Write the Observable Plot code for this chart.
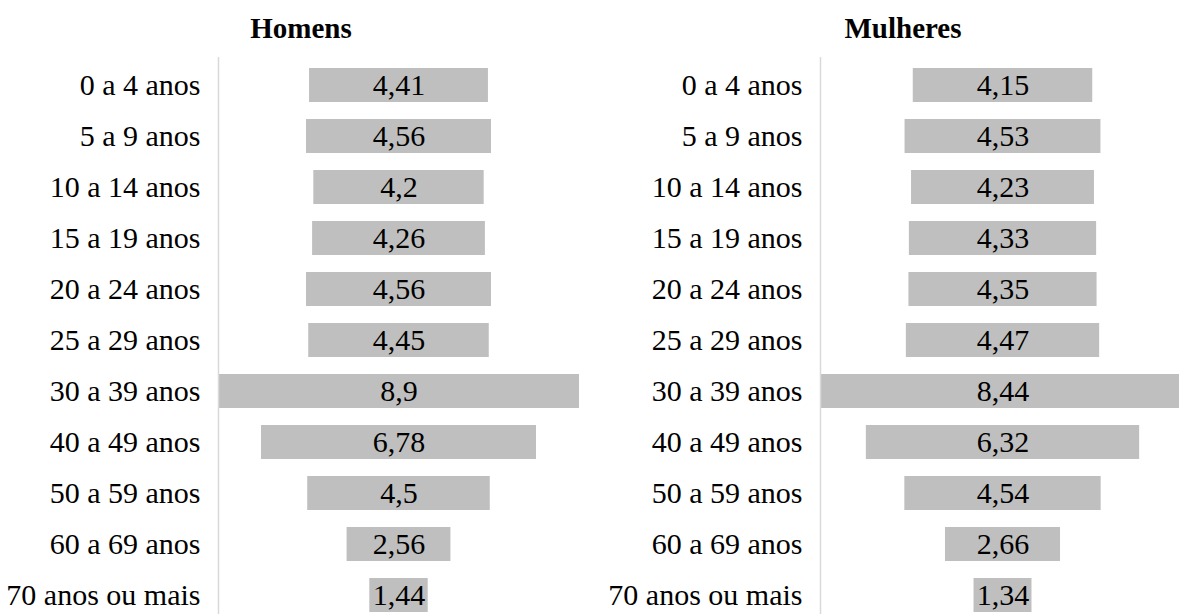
<!DOCTYPE html>
<html>
<head>
<meta charset="utf-8">
<script src="https://cdn.jsdelivr.net/npm/d3@7"></script>
<script src="https://cdn.jsdelivr.net/npm/@observablehq/plot@0.6"></script>
<style>
  html, body { margin: 0; padding: 0; background: #fff; overflow: hidden; }
  #chart { display: flex; width: 1204px; }
  .panel { width: 602px; flex: none; }
  .title {
    height: 57px; line-height: 57px; text-align: center;
    font-family: "Liberation Serif", "Times New Roman", serif;
    font-weight: bold; font-size: 29px; color: #000;
  }
  svg { display: block; }
  svg, svg text { font-family: "Liberation Serif", "Times New Roman", serif !important; }
</style>
</head>
<body>
<div id="chart"></div>
<script>
// Faixas etárias e percentuais por sexo
const ageGroups = [
  "0 a 4 anos", "5 a 9 anos", "10 a 14 anos", "15 a 19 anos", "20 a 24 anos",
  "25 a 29 anos", "30 a 39 anos", "40 a 49 anos", "50 a 59 anos",
  "60 a 69 anos", "70 anos ou mais"
];
const men   = [4.41, 4.56, 4.2, 4.26, 4.56, 4.45, 8.9, 6.78, 4.5, 2.56, 1.44];
const women = [4.15, 4.53, 4.23, 4.33, 4.35, 4.47, 8.44, 6.32, 4.54, 2.66, 1.34];
const panelTitles = ["Homens", "Mulheres"];

const fmt = v => String(v).replace(".", ",");

function panel(title, values) {
  const data = ageGroups.map((age, i) => ({age, value: values[i]}));
  const half = d3.max(values) / 2;

  const wrap = document.createElement("div");
  wrap.className = "panel";
  const t = document.createElement("div");
  t.className = "title";
  t.textContent = title;
  wrap.appendChild(t);

  const plot = Plot.plot({
    width: 602,
    height: 565,
    marginLeft: 218,
    marginRight: title === "Homens" ? 23 : 19,
    marginTop: 0,
    marginBottom: 0,
    style: {fontSize: "30px", color: "#000", background: "transparent"},
    x: {domain: [-half, half], axis: null},
    y: {domain: ageGroups, paddingInner: 0.34, paddingOuter: 0.17, label: null},
    marks: [
      // barras centradas (funil)
      Plot.barX(data, {y: "age", x1: d => -d.value / 2, x2: d => d.value / 2, fill: "#bfbfbf"}),
      Plot.text(data, {y: "age", x: () => 0, text: d => fmt(d.value), fontSize: 30, fill: "#000"}),
      Plot.ruleX([-half], {stroke: "#d9d9d9", strokeWidth: 1.5}),
      Plot.axisY({tickSize: 0, tickPadding: 18, fontSize: 30, fill: "#000", label: null})
    ]
  });
  wrap.appendChild(plot);
  return wrap;
}

const chart = document.getElementById("chart");
chart.appendChild(panel(panelTitles[0], men));
chart.appendChild(panel(panelTitles[1], women));
</script>
</body>
</html>
